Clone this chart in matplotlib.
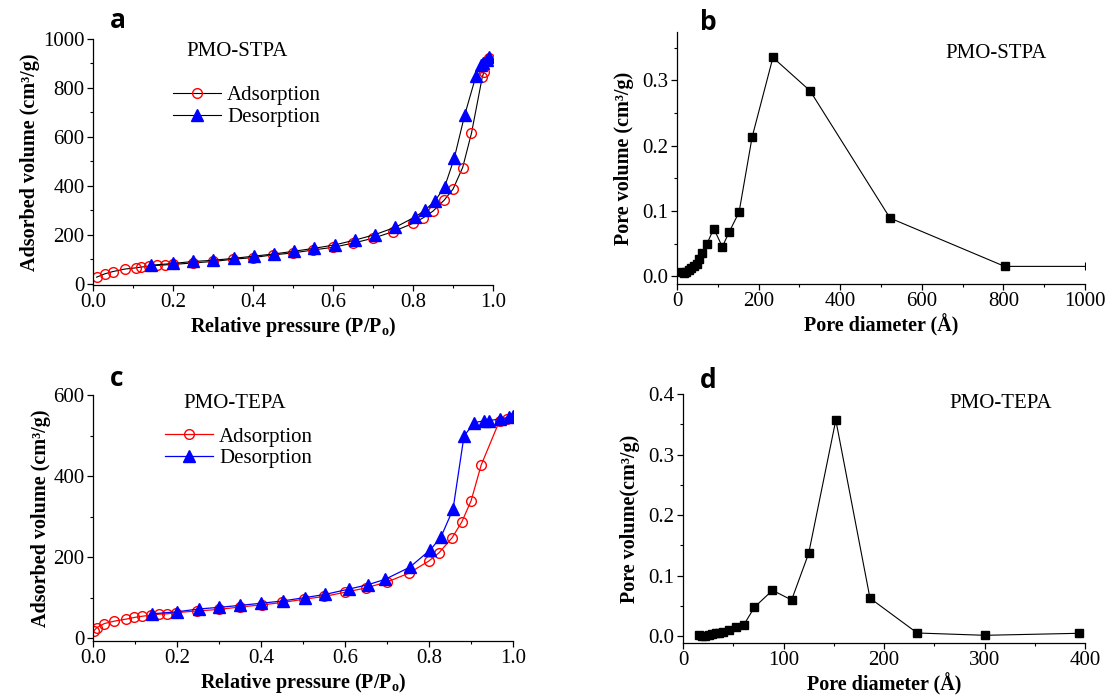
import numpy as np
import matplotlib
matplotlib.use("Agg")
import matplotlib.pyplot as plt
from matplotlib.ticker import MultipleLocator

plt.rcParams['font.family'] = ['Liberation Serif', 'DejaVu Serif']
plt.rcParams['mathtext.default'] = 'regular'

# -----------------------------
# Data
# -----------------------------
# (a) PMO-STPA isotherm
a_ads_p = [0.009, 0.03, 0.05, 0.079, 0.107, 0.119, 0.14, 0.16, 0.18, 0.2, 0.25, 0.3, 0.35,
           0.4, 0.45, 0.5, 0.55, 0.6, 0.65, 0.7, 0.75, 0.8, 0.825, 0.85, 0.878, 0.9,
           0.924, 0.946, 0.973, 0.977, 0.987, 0.991]
a_ads_v = [27, 41, 50, 60, 65, 68, 72, 75, 77, 79, 85, 91, 100,
           107, 118, 126, 138, 149, 166, 186, 213, 247, 269, 297, 342, 387,
           475, 615, 844, 864, 916, 923]
a_des_p = [0.991, 0.984, 0.975, 0.969, 0.957, 0.929, 0.903, 0.879, 0.855, 0.83, 0.806,
           0.756, 0.705, 0.656, 0.605, 0.553, 0.503, 0.453, 0.403, 0.352, 0.3, 0.25,
           0.2, 0.146]
a_des_v = [925, 916, 902, 895, 848, 689, 513, 396, 339, 301, 274,
           231, 201, 179, 159, 145, 133, 122, 113, 104, 96, 91,
           83, 76]

# (b) PMO-STPA pore size distribution
b_d = [12, 18, 23, 29, 35, 41, 48, 54, 62, 73, 90, 111, 128, 152, 184, 235, 326, 522, 803, 1000]
b_v = [0.006, 0.005, 0.006, 0.009, 0.012, 0.015, 0.019, 0.027, 0.036, 0.049, 0.073, 0.045,
       0.068, 0.098, 0.213, 0.335, 0.284, 0.089, 0.015, 0.015]

# (c) PMO-TEPA isotherm
c_ads_p = [0.002, 0.009, 0.027, 0.051, 0.079, 0.098, 0.117, 0.139, 0.157, 0.177, 0.198,
           0.248, 0.301, 0.351, 0.402, 0.451, 0.502, 0.551, 0.599, 0.65, 0.701, 0.751,
           0.799, 0.824, 0.855, 0.878, 0.9, 0.924, 0.968, 0.985, 1.0]
c_ads_v = [18, 26, 36, 42, 47, 51, 54, 57, 59, 60, 63,
           67, 71, 77, 82, 88, 96, 103, 113, 124, 139, 160,
           190, 211, 248, 287, 339, 427, 537, 540, 543]
c_des_p = [1.0, 0.99, 0.97, 0.943, 0.93, 0.907, 0.883, 0.857, 0.828, 0.803, 0.754,
           0.695, 0.655, 0.609, 0.553, 0.504, 0.453, 0.4, 0.351, 0.301, 0.252, 0.2, 0.14]
c_des_v = [549, 545, 541, 537, 536, 532, 498, 318, 249, 218, 175,
           145, 132, 121, 108, 100, 92, 86, 81, 76, 72, 65, 60]

# (d) PMO-TEPA pore size distribution
d_d = [15.7, 18.5, 22, 25.5, 29, 32.5, 36, 40, 45.5, 52.5, 60.5, 71, 89, 108, 125, 152,
       186, 233, 300.5, 393.6]
d_v = [0.0017, 0.0006, 0.001, 0.0028, 0.004, 0.005, 0.006, 0.0077, 0.011, 0.015, 0.019,
       0.048, 0.076, 0.060, 0.137, 0.357, 0.063, 0.0055, 0.0017, 0.005]

# -----------------------------
# Figure / axes layout
# -----------------------------
fig = plt.figure(figsize=(11.13, 6.98), dpi=100)
ax_a = fig.add_axes([0.0836, 0.5917, 0.3594, 0.3524])
ax_b = fig.add_axes([0.6083, 0.5931, 0.3666, 0.3610])
ax_c = fig.add_axes([0.0836, 0.0817, 0.3774, 0.3524])
ax_d = fig.add_axes([0.6137, 0.0788, 0.3612, 0.3567])

fs_tick = 15
fs_label = 14.5


def style(ax, xmaj, xmin, ymaj, ymin):
    for s in ('top', 'right'):
        ax.spines[s].set_visible(False)
    for s in ('left', 'bottom'):
        ax.spines[s].set_linewidth(0.9)
    ax.xaxis.set_major_locator(MultipleLocator(xmaj))
    ax.xaxis.set_minor_locator(MultipleLocator(xmin))
    ax.yaxis.set_major_locator(MultipleLocator(ymaj))
    ax.yaxis.set_minor_locator(MultipleLocator(ymin))
    ax.tick_params(which='major', direction='out', length=4, width=0.9,
                   labelsize=fs_tick, pad=2)
    ax.tick_params(which='minor', direction='out', length=2, width=0.8)


iso_xlabel = r'Relative pressure (P/P$_\mathregular{o}$)'
iso_ylabel = 'Adsorbed volume (cm³/g)'

# ---- (a)
ax_a.plot(a_ads_p, a_ads_v, '-', color='black', lw=0.8, marker='o', ms=7,
          mfc='none', mec='red', mew=1.0, label='Adsorption')
ax_a.plot(a_des_p, a_des_v, '-', color='black', lw=0.8, marker='^', ms=8,
          mfc='blue', mec='blue', label='Desorption')
ax_a.set_xlim(0, 1.0)
ax_a.set_ylim(-5, 1000)
style(ax_a, 0.2, 0.1, 200, 100)
ax_a.xaxis.set_major_formatter(plt.FormatStrFormatter('%.1f'))
ax_a.set_xlabel(iso_xlabel, fontsize=fs_label, fontweight='bold', labelpad=2)
ax_a.set_ylabel(iso_ylabel, fontsize=fs_label, fontweight='bold', labelpad=2)
ax_a.text(0.36, 950, 'PMO-STPA', fontsize=fs_tick, ha='center', va='center')
ax_a.legend(loc='upper left', bbox_to_anchor=(0.2, 0.81), frameon=False,
            fontsize=fs_tick, handlelength=2.3, handletextpad=0.3,
            labelspacing=0.1, borderpad=0, borderaxespad=0)

# ---- (b)
ax_b.plot(b_d, b_v, '-', color='black', lw=0.8)
ax_b.plot(b_d[:-1], b_v[:-1], 's', color='black', ms=6)
ax_b.plot(b_d[-1:], b_v[-1:], '|', color='black', ms=6, mew=0.8)
ax_b.set_xlim(0, 1000)
ax_b.set_ylim(-0.012, 0.374)
style(ax_b, 200, 100, 0.1, 0.05)
ax_b.yaxis.set_major_formatter(plt.FormatStrFormatter('%.1f'))
ax_b.set_xlabel('Pore diameter (Å)', fontsize=fs_label, fontweight='bold', labelpad=2)
ax_b.set_ylabel('Pore volume (cm³/g)', fontsize=fs_label, fontweight='bold', labelpad=6)
ax_b.text(782, 0.341, 'PMO-STPA', fontsize=fs_tick, ha='center', va='center')

# ---- (c)
ax_c.plot(c_ads_p, c_ads_v, '-', color='red', lw=0.9, marker='o', ms=7,
          mfc='none', mec='red', mew=1.0, label='Adsorption')
ax_c.plot(c_des_p, c_des_v, '-', color='blue', lw=0.9, marker='^', ms=8,
          mfc='blue', mec='blue', label='Desorption')
ax_c.set_xlim(0, 1.0)
ax_c.set_ylim(-7, 600)
style(ax_c, 0.2, 0.1, 200, 100)
ax_c.xaxis.set_major_formatter(plt.FormatStrFormatter('%.1f'))
ax_c.set_xlabel(iso_xlabel, fontsize=fs_label, fontweight='bold', labelpad=2)
ax_c.set_ylabel(iso_ylabel, fontsize=fs_label, fontweight='bold', labelpad=2)
ax_c.text(0.338, 580, 'PMO-TEPA', fontsize=fs_tick, ha='center', va='center')
ax_c.legend(loc='upper left', bbox_to_anchor=(0.171, 0.87), frameon=False,
            fontsize=fs_tick, handlelength=2.3, handletextpad=0.3,
            labelspacing=0.1, borderpad=0, borderaxespad=0)

# ---- (d)
ax_d.plot(d_d, d_v, '-', color='black', lw=0.8, marker='s', ms=6)
ax_d.set_xlim(0, 400)
ax_d.set_ylim(-0.011, 0.4)
style(ax_d, 100, 50, 0.1, 0.05)
ax_d.yaxis.set_major_formatter(plt.FormatStrFormatter('%.1f'))
ax_d.set_xlabel('Pore diameter (Å)', fontsize=fs_label, fontweight='bold', labelpad=2)
ax_d.set_ylabel('Pore volume(cm³/g)', fontsize=fs_label, fontweight='bold', labelpad=6)
ax_d.text(316, 0.385, 'PMO-TEPA', fontsize=fs_tick, ha='center', va='center')

# ---- panel letters
for lab, x, y in [('a', 118, 20), ('b', 708, 22), ('c', 117, 379), ('d', 708, 381)]:
    fig.text(x / 1113, 1 - y / 698, lab, fontsize=19, fontweight='bold',
             family=['Open Sans', 'DejaVu Sans'], ha='center', va='center')

fig.savefig('out.png', dpi=100)
